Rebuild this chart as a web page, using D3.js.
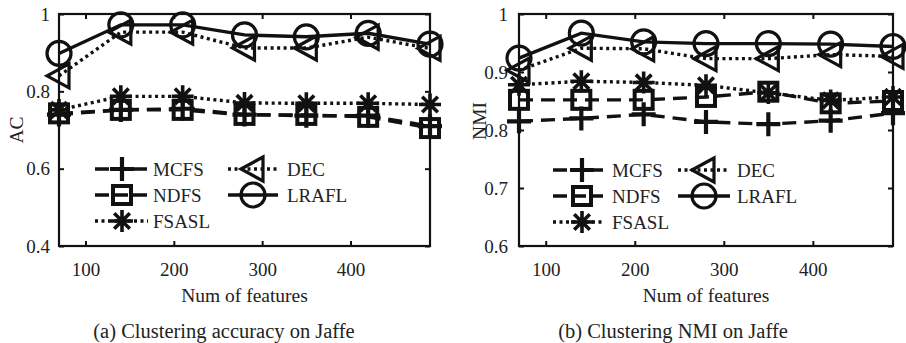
<!DOCTYPE html>
<html><head><meta charset="utf-8">
<script src="https://cdn.jsdelivr.net/npm/d3@7"></script>
<style>body{margin:0;background:#fff}svg{display:block}text{font-family:"Liberation Serif","Times New Roman",serif;fill:#222}</style>
</head><body><svg id="c" width="906" height="343"></svg>
<script>
const features = [70, 140, 210, 280, 350, 420, 490];
const methods = ["MCFS", "NDFS", "FSASL", "DEC", "LRAFL"];
// Clustering accuracy (AC) on Jaffe
const acMCFS  = [0.740, 0.752, 0.755, 0.740, 0.737, 0.737, 0.710];
const acNDFS  = [0.743, 0.752, 0.752, 0.739, 0.739, 0.734, 0.705];
const acFSASL = [0.752, 0.787, 0.787, 0.770, 0.769, 0.769, 0.766];
const acDEC   = [0.840, 0.953, 0.953, 0.912, 0.912, 0.940, 0.911];
const acLRAFL = [0.898, 0.972, 0.972, 0.946, 0.941, 0.950, 0.922];
// Clustering NMI on Jaffe
const nmiMCFS  = [0.815, 0.820, 0.827, 0.814, 0.810, 0.816, 0.829];
const nmiNDFS  = [0.852, 0.852, 0.852, 0.857, 0.866, 0.846, 0.850];
const nmiFSASL = [0.878, 0.884, 0.882, 0.877, 0.864, 0.851, 0.857];
const nmiDEC   = [0.903, 0.941, 0.940, 0.923, 0.923, 0.930, 0.927];
const nmiLRAFL = [0.924, 0.967, 0.952, 0.949, 0.949, 0.948, 0.944];
const xTicks = [100, 200, 300, 400];
const acTicks = [0.4, 0.6, 0.8, 1];
const nmiTicks = [0.6, 0.7, 0.8, 0.9, 1];

const style = {
  MCFS:  {dash: "14,8", marker: "plus"},
  NDFS:  {dash: "14,8", marker: "square"},
  FSASL: {dash: "3,3.5", marker: "star"},
  DEC:   {dash: "3,3.5", marker: "tri"},
  LRAFL: {dash: null, marker: "circle"}
};
const INK = "#111";
const svg = d3.select("#c");

function drawMarker(g, type, cx, cy) {
  if (type === "circle") {
    g.append("circle").attr("cx", cx).attr("cy", cy).attr("r", 12)
      .attr("fill", "none").attr("stroke", INK).attr("stroke-width", 3.2);
  } else if (type === "tri") {
    g.append("path").attr("d", `M${cx-12},${cy}L${cx+10},${cy-12}L${cx+10},${cy+12}Z`)
      .attr("fill", "none").attr("stroke", INK).attr("stroke-width", 3.2).attr("stroke-linejoin", "miter");
  } else if (type === "square") {
    g.append("rect").attr("x", cx-9).attr("y", cy-9).attr("width", 18).attr("height", 18)
      .attr("fill", "none").attr("stroke", INK).attr("stroke-width", 4);
  } else if (type === "plus") {
    g.append("path").attr("d", `M${cx-12},${cy}H${cx+12}M${cx},${cy-12}V${cy+12}`)
      .attr("stroke", INK).attr("stroke-width", 4.2);
  } else if (type === "star") {
    const r = 11, d = 7.8;
    g.append("path").attr("d", `M${cx-r},${cy}H${cx+r}M${cx},${cy-r}V${cy+r}M${cx-d},${cy-d}L${cx+d},${cy+d}M${cx-d},${cy+d}L${cx+d},${cy-d}`)
      .attr("stroke", INK).attr("stroke-width", 3.6);
  }
}

function panel(opt) {
  const x = d3.scaleLinear().domain([70, 490]).range([opt.left, opt.right]);
  const y = d3.scaleLinear().domain(opt.ydom).range([246, 14]);
  const g = svg.append("g");
  // ticks (inside) on bottom/top
  const gb = g.append("g").attr("transform", "translate(0,246)")
    .call(d3.axisBottom(x).tickValues(xTicks).tickSizeInner(-5).tickSizeOuter(0).tickPadding(17));
  const gt = g.append("g").attr("transform", "translate(0,14)")
    .call(d3.axisTop(x).tickValues(xTicks).tickSizeInner(-5).tickSizeOuter(0).tickFormat(""));
  const gl = g.append("g").attr("transform", `translate(${opt.left},0)`)
    .call(d3.axisLeft(y).tickValues(opt.yticks).tickSizeInner(-5).tickSizeOuter(0).tickPadding(opt.ypad).tickFormat(d => d === 1 ? "1" : d3.format(".1f")(d)));
  const gr = g.append("g").attr("transform", `translate(${opt.right},0)`)
    .call(d3.axisRight(y).tickValues(opt.yticks).tickSizeInner(-5).tickSizeOuter(0).tickFormat(""));
  [gb, gt, gl, gr].forEach(a => {
    a.select(".domain").remove();
    a.selectAll("line").attr("stroke", INK).attr("stroke-width", 2);
    a.selectAll("text").style("font-family", '"Liberation Serif","Times New Roman",serif')
      .style("font-size", "19px").attr("fill", "#222");
  });
  // box
  g.append("rect").attr("x", opt.left).attr("y", 14).attr("width", opt.right - opt.left).attr("height", 232)
    .attr("fill", "none").attr("stroke", INK).attr("stroke-width", 2.2);
  // labels
  g.append("text").attr("x", (opt.left + opt.right) / 2).attr("y", 302).attr("text-anchor", "middle")
    .style("font-size", "19.5px").text("Num of features");
  g.append("text").attr("transform", `translate(${opt.ylx},${opt.yly}) rotate(-90)`).attr("text-anchor", "middle")
    .style("font-size", "19.5px").text(opt.ylabel);
  g.append("text").attr("x", opt.capx).attr("y", 338).attr("text-anchor", "middle")
    .style("font-size", "20.5px").text(opt.caption);
  // series
  methods.forEach((m, i) => {
    const vals = opt.series[i];
    const s = g.append("g");
    const line = d3.line().x((d, j) => x(features[j])).y(d => y(d));
    const p = s.append("path").datum(vals).attr("d", line).attr("fill", "none")
      .attr("stroke", INK).attr("stroke-width", 3.4);
    if (style[m].dash) p.attr("stroke-dasharray", style[m].dash);
    vals.forEach((v, j) => drawMarker(s, style[m].marker, x(features[j]), y(v)));
  });
  // legend
  const L = opt.leg;
  const pos = [[0, 0], [0, 1], [0, 2], [1, 0], [1, 1]];
  methods.forEach((m, i) => {
    const [c, r] = pos[i];
    const x0 = L.cols[c][0], x1 = L.cols[c][1], mx = L.cols[c][2], tx = L.cols[c][3];
    const yy = L.rows[r];
    const lg = g.append("g");
    const ln = lg.append("line").attr("x1", x0).attr("x2", x1).attr("y1", yy).attr("y2", yy)
      .attr("stroke", INK).attr("stroke-width", 3.4);
    if (style[m].dash) ln.attr("stroke-dasharray", style[m].dash === "14,8" ? "14,5" : style[m].dash);
    drawMarker(lg, style[m].marker, mx, yy);
    lg.append("text").attr("x", tx).attr("y", yy + 7).style("font-size", "19px").text(m);
  });
}

panel({
  left: 59, right: 430, ydom: [0.4, 1], yticks: acTicks, ypad: 9,
  ylabel: "AC", ylx: 23, yly: 130, caption: "(a) Clustering accuracy on Jaffe", capx: 224,
  series: [acMCFS, acNDFS, acFSASL, acDEC, acLRAFL],
  leg: {cols: [[95, 148, 122, 153], [228, 278, 253, 287]], rows: [169, 195, 221]}
});
panel({
  left: 519, right: 893, ydom: [0.6, 1], yticks: nmiTicks, ypad: 11,
  ylabel: "NMI", ylx: 486, yly: 121, caption: "(b) Clustering NMI on Jaffe", capx: 673,
  series: [nmiMCFS, nmiNDFS, nmiFSASL, nmiDEC, nmiLRAFL],
  leg: {cols: [[553, 603, 582, 612], [678, 730, 704, 737]], rows: [170, 196, 222]}
});
</script></body></html>
